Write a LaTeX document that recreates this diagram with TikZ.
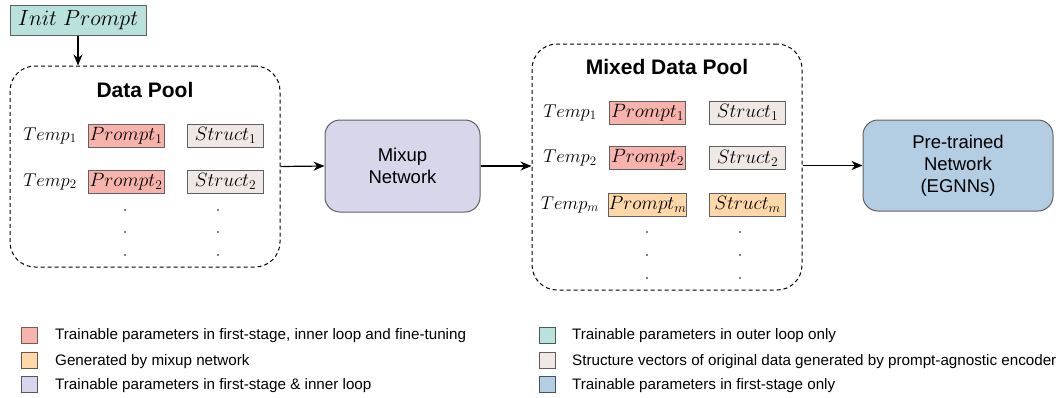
\RequirePackage{fix-cm}
\documentclass[tikz,border=0pt]{standalone}
\usepackage{fontspec}
\setmainfont{Liberation Sans}
\usetikzlibrary{positioning,arrows.meta}

\definecolor{promptred}{RGB}{248,179,172}
\definecolor{structgray}{RGB}{240,232,229}
\definecolor{mixorange}{RGB}{255,216,170}
\definecolor{initteal}{RGB}{185,226,220}
\definecolor{mixlav}{RGB}{216,214,235}
\definecolor{egnnblue}{RGB}{179,205,227}
\definecolor{edgegray}{RGB}{96,96,96}

\begin{document}
\begin{tikzpicture}[x=1pt,y=-1pt,
    cell/.style={draw=edgegray, line width=1pt, minimum width=76pt, minimum height=23pt, inner sep=0pt, font=\fontsize{19.3}{21}\selectfont},
    pool/.style={draw, dash pattern=on 4pt off 3pt, line width=1pt, rounded corners=25pt, inner sep=0pt},
    netbox/.style={draw=edgegray, line width=1pt, rounded corners=15pt, align=center, inner sep=0pt, font=\fontsize{18.5}{22}\selectfont},
    pooltitle/.style={font=\fontsize{21}{23}\selectfont\bfseries},
    templbl/.style={font=\fontsize{18.5}{20}\selectfont},
    dotmark/.style={circle, fill=black, inner sep=0pt, minimum size=1.8pt},
    legbox/.style={draw=edgegray, line width=1pt, minimum size=16pt, inner sep=0pt},
    legtxt/.style={anchor=west, inner sep=0pt, font=\fontsize{15.2}{17}\selectfont},
    flow/.style={-{Stealth[length=11pt,width=9pt,inset=3.5pt]}, line width=1.2pt}]
    \useasboundingbox (0,0) rectangle (1063,397);

    % 初始提示
    \node[draw=edgegray, line width=1pt, fill=initteal, minimum width=136pt, minimum height=30pt, inner sep=0pt, font=\fontsize{22}{24}\selectfont] (init) at (78,20) {$Init\ Prompt$};

    % 数据池
    \node[pool, minimum width=270pt, minimum height=201pt] (pool) at (145,166.5) {};
    \node[pooltitle] (pooltxt) at (145,90) {Data Pool};
    \node[templbl] (temp1) at (50,135.5) {$Temp_1$};
    \node[cell, fill=promptred] (prompt1) at (126,135.5) {$Prompt_1$};
    \node[cell, fill=structgray] (struct1) at (225.5,135.5) {$Struct_1$};
    \node[templbl] (temp2) at (50,181.5) {$Temp_2$};
    \node[cell, fill=promptred] (prompt2) at (126,181.5) {$Prompt_2$};
    \node[cell, fill=structgray] (struct2) at (225.5,181.5) {$Struct_2$};
    \foreach \y [count=\i] in {210,232,255} {
        \node[dotmark] (pdot\i) at (125,\y) {};
        \node[dotmark] (sdot\i) at (218,\y) {};
    }

    % 混合网络
    \node[netbox, fill=mixlav, minimum width=155pt, minimum height=92pt] (mixup) at (402.5,166) {Mixup\\Network};

    % 混合数据池
    \node[pool, minimum width=270pt, minimum height=246pt] (mixpool) at (667,167) {};
    \node[pooltitle] (mixpooltxt) at (667,67) {Mixed Data Pool};
    \node[templbl] (mtemp1) at (570,112.5) {$Temp_1$};
    \node[cell, fill=promptred] (mprompt1) at (647.5,112.5) {$Prompt_1$};
    \node[cell, fill=structgray] (mstruct1) at (747.5,112.5) {$Struct_1$};
    \node[templbl] (mtemp2) at (570,158) {$Temp_2$};
    \node[cell, fill=promptred] (mprompt2) at (647.5,158) {$Prompt_2$};
    \node[cell, fill=structgray] (mstruct2) at (747.5,158) {$Struct_2$};
    \node[templbl] (mtempm) at (570,204.5) {$Temp_m$};
    \node[cell, fill=mixorange] (mpromptm) at (647.5,204.5) {$Prompt_m$};
    \node[cell, fill=mixorange] (mstructm) at (747.5,204.5) {$Struct_m$};
    \foreach \y [count=\i] in {232,255,278} {
        \node[dotmark] (mpdot\i) at (647,\y) {};
        \node[dotmark] (msdot\i) at (740,\y) {};
    }

    % 预训练网络
    \node[netbox, fill=egnnblue, minimum width=190pt, minimum height=91pt] (egnn) at (958,165.5) {Pre-trained\\Network\\(EGNNs)};

    % 连线
    \draw[flow] (init.south) -- (init.south |- pool.north);
    \draw[flow] (pool.east) -- (mixup.west);
    \draw[flow] (mixup.east) -- (mixup.east -| mixpool.west);
    \draw[flow] (mixpool.east |- egnn.west) -- (egnn.west);

    % 图例
    \node[legbox, fill=promptred, draw=promptred!50!black] (leg1) at (29,335) {};
    \node[legtxt] (legtxt1) at (55,336) {Trainable parameters in first-stage, inner loop and fine-tuning};
    \node[legbox, fill=mixorange, draw=mixorange!40!black] (leg2) at (29,360) {};
    \node[legtxt] (legtxt2) at (55,361.5) {Generated by mixup network};
    \node[legbox, fill=mixlav, draw=mixlav!40!black] (leg3) at (29,384) {};
    \node[legtxt] (legtxt3) at (55,386) {Trainable parameters in first-stage \& inner loop};
    \node[legbox, fill=initteal, draw=initteal!40!black] (leg4) at (547,335) {};
    \node[legtxt] (legtxt4) at (572,336) {Trainable parameters in outer loop only};
    \node[legbox, fill=structgray, draw=structgray!40!black] (leg5) at (547,360) {};
    \node[legtxt] (legtxt5) at (572,361.5) {Structure vectors of original data generated by prompt-agnostic encoder};
    \node[legbox, fill=egnnblue, draw=egnnblue!40!black] (leg6) at (547,384) {};
    \node[legtxt] (legtxt6) at (572,386) {Trainable parameters in first-stage only};
\end{tikzpicture}
\end{document}
